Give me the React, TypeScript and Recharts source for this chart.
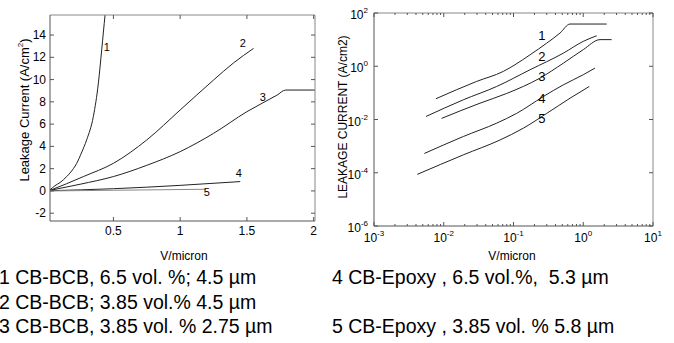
import React from "react";
import { LineChart, Line, XAxis, YAxis, ReferenceDot } from "recharts";

const FONT = '"Liberation Sans", Arial, Helvetica, sans-serif';
const AXIS = "#555";
const INK = "#222";

// left panel: linear axes, V/micron vs A/cm2
const LIN_X_TICKS = [0.5, 1, 1.5, 2];
const LIN_Y_TICKS = [-2, 0, 2, 4, 6, 8, 10, 12, 14];
const LIN_X_DOMAIN = [0.025, 2.01];
const LIN_Y_DOMAIN = [-2.7, 15.8];

const LIN_1 = [[0.025, 0.09], [0.06, 0.45], [0.1, 0.75], [0.15, 1.29], [0.2, 2.0], [0.225, 2.48], [0.26, 3.4], [0.3, 4.6], [0.35, 6.7], [0.3875, 9.7], [0.4125, 12.7], [0.4375, 15.8], [0.45, 17.2]];
const LIN_2 = [[0.025, 0.05], [0.15, 0.65], [0.275, 1.29], [0.5, 2.48], [0.75, 4.58], [1.0, 7.27], [1.25, 9.96], [1.4, 11.5], [1.55, 12.8]];
const LIN_3 = [[0.025, 0.05], [0.25, 0.6], [0.5, 1.29], [0.75, 2.3], [1.0, 3.53], [1.25, 5.17], [1.5, 7.12], [1.725, 8.6], [1.79, 9.06], [2.01, 9.06]];
const LIN_4 = [[0.025, 0.02], [0.5, 0.2], [1.0, 0.5], [1.45, 0.84]];
const LIN_5 = [[0.025, 0.0], [0.5, 0.06], [1.19, 0.15]];
const LIN_LABELS = [["1", 0.45, 12.9], ["2", 1.47, 13.3], ["3", 1.62, 8.4], ["4", 1.44, 1.6], ["5", 1.2, -0.1]];

// right panel: log-log axes
const LOG_X_TICKS = [
  0.001, 0.002, 0.003, 0.004, 0.005, 0.006, 0.007, 0.008, 0.009,
  0.01, 0.02, 0.03, 0.04, 0.05, 0.06, 0.07, 0.08, 0.09,
  0.1, 0.2, 0.3, 0.4, 0.5, 0.6, 0.7, 0.8, 0.9,
  1, 2, 3, 4, 5, 6, 7, 8, 9, 10,
];
const LOG_Y_TICKS = [1e-6, 1e-4, 1e-2, 1, 100];
const LOG_X_DOMAIN = [0.001, 10];
const LOG_Y_DOMAIN = [1e-6, 100];

const LOG_1 = [[0.0077, 0.06], [0.0297, 0.27], [0.0714, 0.64], [0.105, 1.14], [0.173, 2.7], [0.3, 7.4], [0.465, 17.7], [0.646, 38.5], [2.17, 38.5]];
const LOG_2 = [[0.00557, 0.013], [0.0191, 0.055], [0.0574, 0.174], [0.173, 0.74], [0.518, 3.1], [1.0, 8.6], [1.56, 14]];
const LOG_3 = [[0.0093, 0.011], [0.0331, 0.041], [0.0798, 0.095], [0.24, 0.36], [0.518, 1.3], [1.0, 4.2], [1.74, 10], [2.55, 10]];
const LOG_4 = [[0.00527, 0.00053], [0.0191, 0.0023], [0.0574, 0.0073], [0.111, 0.017], [0.268, 0.073], [0.518, 0.2], [1.0, 0.48], [1.47, 0.85]];
const LOG_5 = [[0.00418, 0.000087], [0.0191, 0.00047], [0.064, 0.0017], [0.138, 0.0047], [0.3, 0.017], [0.646, 0.063], [1.22, 0.174]];
const LOG_LABELS = [["1", 0.256, 14.9], ["2", 0.256, 2.4], ["3", 0.256, 0.43], ["4", 0.256, 0.064], ["5", 0.256, 0.0113]];

const LEGEND_LEFT = ["1 CB-BCB, 6.5 vol. %; 4.5 µm", "2 CB-BCB; 3.85 vol.% 4.5 µm", "3 CB-BCB, 3.85 vol. % 2.75 µm"];
const LEGEND_RIGHT = ["4 CB-Epoxy , 6.5 vol.%,  5.3 µm", "", "5 CB-Epoxy , 3.85 vol. % 5.8 µm"];

const pts = (a: number[][]) => a.map(([v, i]) => ({ v, i }));
const isPow10 = (v: number) => Math.abs(Math.log10(v) - Math.round(Math.log10(v))) < 1e-9;

type Side = "bottom" | "top" | "left" | "right";

// matlab-style inward ticks, drawn by hand so minor ticks can be shorter
function tickRenderer(
  side: Side,
  format?: (v: number, x: number, y: number) => React.ReactNode,
  minor?: (v: number) => boolean
) {
  return (props: any) => {
    const { x, y, payload } = props;
    const v = payload.value as number;
    const isMinor = minor ? minor(v) : false;
    const len = isMinor ? 2 : 4;
    const d =
      side === "bottom" ? [0, -len] : side === "top" ? [0, len] : side === "left" ? [len, 0] : [-len, 0];
    return (
      <g>
        <line x1={x} y1={y} x2={x + d[0]} y2={y + d[1]} stroke={AXIS} strokeWidth={1} />
        {format && !isMinor ? format(v, x, y) : null}
      </g>
    );
  };
}

const linBottom = (v: number, x: number, y: number) => (
  <text x={x} y={y + 14} textAnchor="middle" fontSize={12} fontFamily={FONT} fill="#000">
    {v}
  </text>
);
const linLeft = (v: number, x: number, y: number) => (
  <text x={x - 4} y={y + 4} textAnchor="end" fontSize={12} fontFamily={FONT} fill="#000">
    {v}
  </text>
);
const logBottom = (v: number, x: number, y: number) => (
  <text x={x} y={y + 16} textAnchor="middle" fontFamily={FONT} fill="#000">
    <tspan fontSize={12}>10</tspan>
    <tspan fontSize={8} dy={-6}>{Math.round(Math.log10(v))}</tspan>
  </text>
);
const logLeft = (v: number, x: number, y: number) => (
  <text x={x - 6} y={y + 6} textAnchor="end" fontFamily={FONT} fill="#000">
    <tspan fontSize={12}>10</tspan>
    <tspan fontSize={8} dy={-6}>{Math.round(Math.log10(v))}</tspan>
  </text>
);

const labelShape = (text: string, size: number) => (p: any) => (
  <text x={p.cx} y={p.cy} textAnchor="middle" dominantBaseline="central" fontSize={size} fontFamily={FONT} fill="#000">
    {text}
  </text>
);

function LinearPanel() {
  const series = [LIN_1, LIN_2, LIN_3, LIN_4, LIN_5];
  return (
    <LineChart width={330} height={250} margin={{ top: 14, right: 14, bottom: 0, left: 0 }}>
      <XAxis
        dataKey="v"
        type="number"
        domain={LIN_X_DOMAIN}
        ticks={LIN_X_TICKS}
        interval={0}
        allowDataOverflow
        height={29}
        stroke={AXIS}
        tickLine={false}
        tickSize={0}
        tickMargin={0}
        tick={tickRenderer("bottom", linBottom)}
      />
      <XAxis
        xAxisId="top"
        orientation="top"
        dataKey="v"
        type="number"
        domain={LIN_X_DOMAIN}
        ticks={LIN_X_TICKS}
        interval={0}
        allowDataOverflow
        height={1}
        stroke="#888"
        tickLine={false}
        tickSize={0}
        tickMargin={0}
        tick={tickRenderer("top")}
      />
      <YAxis
        type="number"
        domain={LIN_Y_DOMAIN}
        ticks={LIN_Y_TICKS}
        interval={0}
        allowDataOverflow
        width={50}
        stroke={AXIS}
        tickLine={false}
        tickSize={0}
        tickMargin={0}
        tick={tickRenderer("left", linLeft)}
      />
      <YAxis
        yAxisId="r"
        orientation="right"
        type="number"
        domain={LIN_Y_DOMAIN}
        ticks={LIN_Y_TICKS}
        interval={0}
        allowDataOverflow
        width={1}
        stroke="#888"
        tickLine={false}
        tickSize={0}
        tickMargin={0}
        tick={tickRenderer("right")}
      />
      {series.map((s, k) => (
        <Line
          key={k}
          data={pts(s)}
          dataKey="i"
          type="monotone"
          dot={false}
          stroke={k === 4 ? "#8a8a8a" : INK}
          strokeWidth={1}
          isAnimationActive={false}
        />
      ))}
      {LIN_LABELS.map(([t, x, y]) => (
        <ReferenceDot key={t as string} x={x as number} y={y as number} r={0} shape={labelShape(t as string, 11)} />
      ))}
    </LineChart>
  );
}

function LogPanel() {
  const series = [LOG_1, LOG_2, LOG_3, LOG_4, LOG_5];
  return (
    <LineChart width={344} height={250} margin={{ top: 12, right: 20, bottom: 0, left: 0 }}>
      <XAxis
        dataKey="v"
        type="number"
        scale="log"
        domain={LOG_X_DOMAIN}
        ticks={LOG_X_TICKS}
        interval={0}
        allowDataOverflow
        height={24}
        stroke={AXIS}
        tickLine={false}
        tickSize={0}
        tickMargin={0}
        tick={tickRenderer("bottom", logBottom, (v) => !isPow10(v))}
      />
      <XAxis
        xAxisId="top"
        orientation="top"
        dataKey="v"
        type="number"
        scale="log"
        domain={LOG_X_DOMAIN}
        ticks={LOG_X_TICKS}
        interval={0}
        allowDataOverflow
        height={1}
        stroke="#888"
        tickLine={false}
        tickSize={0}
        tickMargin={0}
        tick={tickRenderer("top", undefined, (v) => !isPow10(v))}
      />
      <YAxis
        type="number"
        scale="log"
        domain={LOG_Y_DOMAIN}
        ticks={LOG_Y_TICKS}
        interval={0}
        allowDataOverflow
        width={44}
        stroke={AXIS}
        tickLine={false}
        tickSize={0}
        tickMargin={0}
        tick={tickRenderer("left", logLeft)}
      />
      <YAxis
        yAxisId="r"
        orientation="right"
        type="number"
        scale="log"
        domain={LOG_Y_DOMAIN}
        ticks={LOG_Y_TICKS}
        interval={0}
        allowDataOverflow
        width={1}
        stroke="#888"
        tickLine={false}
        tickSize={0}
        tickMargin={0}
        tick={tickRenderer("right")}
      />
      {series.map((s, k) => (
        <Line
          key={k}
          data={pts(s)}
          dataKey="i"
          type="monotone"
          dot={false}
          stroke={INK}
          strokeWidth={1}
          isAnimationActive={false}
        />
      ))}
      {LOG_LABELS.map(([t, x, y]) => (
        <ReferenceDot key={t as string} x={x as number} y={y as number} r={0} shape={labelShape(t as string, 13)} />
      ))}
    </LineChart>
  );
}

export default function App() {
  return (
    <div style={{ position: "absolute", left: 0, top: 0, width: 674, height: 343, background: "#fff", fontFamily: FONT }}>
      <div style={{ position: "absolute", left: 0, top: 0 }}>
        <LinearPanel />
      </div>
      <div style={{ position: "absolute", left: 330, top: 0 }}>
        <LogPanel />
      </div>
      <svg width={674} height={343} style={{ position: "absolute", left: 0, top: 0, pointerEvents: "none" }}>
        <text x={24} y={110} transform="rotate(-90 24 110)" textAnchor="middle" dominantBaseline="central" fontSize={13} fontFamily={FONT}>
          Leakage Current (A/cm<tspan dy={-4} fontSize={8}>2</tspan><tspan dy={4}>)</tspan>
        </text>
        <text x={343} y={117} transform="rotate(-90 343 117)" textAnchor="middle" dominantBaseline="central" fontSize={12} fontFamily={FONT}>
          LEAKAGE CURRENT (A/cm2)
        </text>
        <text x={184} y={260} textAnchor="middle" fontSize={12} fontFamily={FONT}>V/micron</text>
        <text x={512} y={260} textAnchor="middle" fontSize={12} fontFamily={FONT}>V/micron</text>
        {LEGEND_LEFT.map((t, k) => (
          <text key={"l" + k} x={-1} y={284 + k * 24.5} fontSize={19.5} fontFamily={FONT} style={{ whiteSpace: "pre" }}>
            {t}
          </text>
        ))}
        {LEGEND_RIGHT.map((t, k) => (
          <text key={"r" + k} x={332} y={284 + k * 24.5} fontSize={19.5} fontFamily={FONT} style={{ whiteSpace: "pre" }}>
            {t}
          </text>
        ))}
      </svg>
    </div>
  );
}
